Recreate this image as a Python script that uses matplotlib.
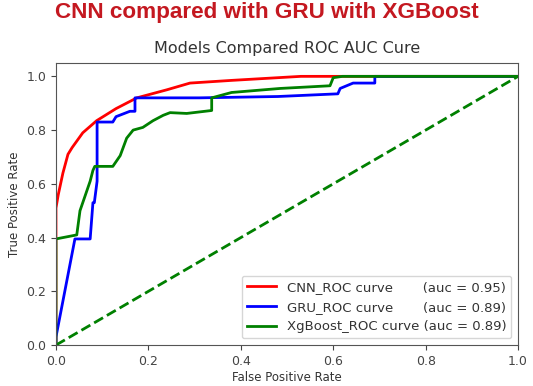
#!/usr/bin/env python
# ROC curves for CNN / GRU / XGBoost

import matplotlib
matplotlib.use('Agg')
import matplotlib.pyplot as plt
from matplotlib import font_manager as fm

# CNN ROC points
cnn_fpr = [0.0, 0.0, 0.005, 0.01, 0.015, 0.026, 0.035, 0.058, 0.088, 0.13, 0.175,
           0.24, 0.29, 0.38, 0.53, 0.7, 1.0]
cnn_tpr = [0.0, 0.51, 0.56, 0.6, 0.64, 0.71, 0.735, 0.79, 0.835, 0.88, 0.92,
           0.95, 0.975, 0.985, 1.0, 1.0, 1.0]

# GRU ROC points
gru_fpr = [0.0, 0.0, 0.041, 0.074, 0.08, 0.083, 0.089, 0.089, 0.123, 0.13, 0.16,
           0.171, 0.171, 0.31, 0.48, 0.61, 0.615, 0.643, 0.69, 0.69, 1.0]
gru_tpr = [0.0, 0.03, 0.395, 0.395, 0.53, 0.53, 0.61, 0.83, 0.83, 0.85, 0.87,
           0.87, 0.92, 0.92, 0.925, 0.935, 0.955, 0.975, 0.975, 1.0, 1.0]

# XGBoost ROC points
xgb_fpr = [0.0, 0.0, 0.045, 0.052, 0.058, 0.067, 0.074, 0.08, 0.084, 0.123, 0.139,
           0.153, 0.167, 0.188, 0.21, 0.232, 0.247, 0.283, 0.337, 0.337, 0.38,
           0.485, 0.593, 0.6, 0.62, 1.0]
xgb_tpr = [0.0, 0.395, 0.41, 0.5, 0.53, 0.575, 0.61, 0.65, 0.665, 0.665, 0.705,
           0.77, 0.80, 0.81, 0.835, 0.855, 0.865, 0.862, 0.873, 0.92, 0.94,
           0.955, 0.965, 0.995, 1.0, 1.0]

labels = ['CNN_ROC curve       (auc = 0.95)',
          'GRU_ROC curve       (auc = 0.89)',
          'XgBoost_ROC curve (auc = 0.89)']

# plain (not narrow) Liberation Sans Bold for the banner
bold_file = [f for f in fm.findSystemFonts() if f.endswith('LiberationSans-Bold.ttf')]
if bold_file:
    banner_font = fm.FontProperties(fname=bold_file[0], size=16.2)
else:
    banner_font = fm.FontProperties(family='DejaVu Sans', weight='bold', size=15)

fig = plt.figure(figsize=(5.33, 3.86), dpi=100)
ax = fig.add_axes([0.105, 0.106, 0.867, 0.731])

ax.plot(cnn_fpr, cnn_tpr, color='red', lw=2, label=labels[0])
ax.plot(gru_fpr, gru_tpr, color='blue', lw=2, label=labels[1])
ax.plot(xgb_fpr, xgb_tpr, color='green', lw=2, label=labels[2])
ax.plot([0, 1], [0, 1], color='green', lw=2, linestyle='--')

ax.set_xlim(0.0, 1.0)
ax.set_ylim(0.0, 1.05)
ax.tick_params(labelsize=9, colors='#444444')
for s in ax.spines.values():
    s.set_color('#555555')
ax.set_xlabel('False Positive Rate', fontsize=8.5, color='#333333', labelpad=2)
ax.set_ylabel('True Positive Rate', fontsize=8.5, color='#333333', labelpad=4)
ax.set_title('Models Compared ROC AUC Cure', fontsize=11.5, color='#333333', pad=7)
ax.legend(loc='lower right', fontsize=9.5, handlelength=2.2, labelcolor='#333333')

fig.text(0.5, 0.968, 'CNN compared with GRU with XGBoost', ha='center', va='center',
         fontproperties=banner_font, color='#C41820')

fig.savefig('out.png', dpi=100)
